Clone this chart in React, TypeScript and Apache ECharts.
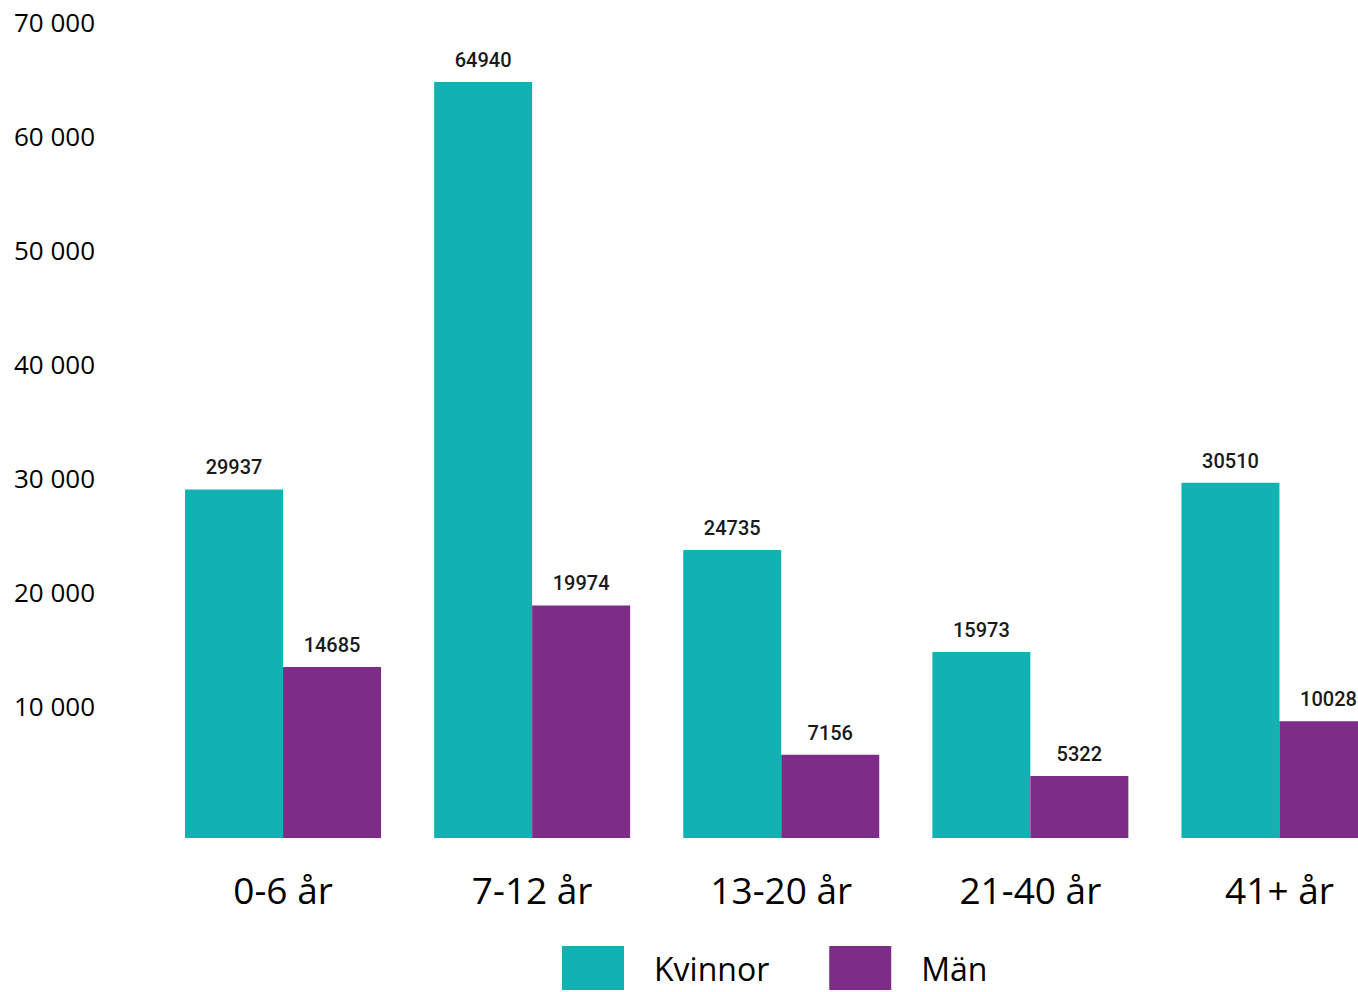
import React, { useEffect, useRef } from "react";
import * as echarts from "echarts";

const categories = ["0-6 år", "7-12 år", "13-20 år", "21-40 år", "41+ år"];
const kvinnor = [29937, 64940, 24735, 15973, 30510];
const man = [14685, 19974, 7156, 5322, 10028];
const seriesNames = ["Kvinnor", "Män"];
const yTicks = { min: 0, max: 70000, interval: 10000 };

const fmtThousands = (v: number) =>
  String(v).replace(/\B(?=(\d{3})+(?!\d))/g, " ");

export default function App() {
  const ref = useRef<HTMLDivElement>(null);
  useEffect(() => {
    if (!ref.current) return;
    const chart = echarts.init(ref.current, null, { renderer: "svg" });
    const valueLabel = {
      show: true,
      position: "top",
      distance: 12,
      fontFamily: "Roboto",
      fontWeight: 500,
      fontSize: 20,
      color: "#1a1a1a",
    };
    chart.setOption({
      animation: false,
      backgroundColor: "#ffffff",
      grid: [
        { left: 158.5, right: 0, top: 23, bottom: 154 },
        { left: 158.5, right: 0, top: 22, bottom: 172 },
      ],
      xAxis: [
        {
          type: "category",
          gridIndex: 0,
          data: categories,
          axisLine: { show: false },
          axisTick: { show: false },
          axisLabel: {
            margin: 33,
            fontFamily: "Open Sans",
            fontSize: 37,
            color: "#000",
          },
        },
        { type: "value", gridIndex: 1, show: false, min: 0, max: 1 },
      ],
      yAxis: [
        {
          type: "value",
          gridIndex: 0,
          min: yTicks.min,
          max: yTicks.max,
          interval: yTicks.interval,
          axisLabel: { show: false },
          axisLine: { show: false },
          axisTick: { show: false },
          splitLine: { show: false },
        },
        {
          type: "value",
          gridIndex: 1,
          min: yTicks.min,
          max: yTicks.max,
          interval: yTicks.interval,
          axisLine: { show: false },
          axisTick: { show: false },
          splitLine: { show: false },
          axisLabel: {
            showMinLabel: false,
            align: "left",
            margin: 144.5,
            fontFamily: "Open Sans",
            fontSize: 26,
            color: "#000",
            formatter: (v: number) => fmtThousands(v),
          },
        },
      ],
      legend: {
        left: 562,
        top: 946,
        padding: 0,
        itemWidth: 62,
        itemHeight: 44,
        itemGap: 60,
        icon: "rect",
        data: seriesNames,
        textStyle: {
          fontFamily: "Open Sans",
          fontSize: 32,
          color: "#000",
          padding: [0, 0, 0, 25],
        },
      },
      series: [
        {
          name: seriesNames[0],
          type: "bar",
          xAxisIndex: 0,
          yAxisIndex: 0,
          data: kvinnor,
          barWidth: 98,
          barGap: "0%",
          itemStyle: { color: "#11B2B1" },
          label: valueLabel,
        },
        {
          name: seriesNames[1],
          type: "bar",
          xAxisIndex: 0,
          yAxisIndex: 0,
          data: man,
          barWidth: 98,
          barGap: "0%",
          itemStyle: { color: "#7D2D87" },
          label: valueLabel,
        },
      ],
    });
    return () => chart.dispose();
  }, []);
  return (
    <div
      style={{
        position: "absolute",
        left: 0,
        top: 0,
        width: 1358,
        height: 992,
        overflow: "hidden",
      }}
    >
      <div ref={ref} style={{ width: 1404, height: 992 }} />
    </div>
  );
}
